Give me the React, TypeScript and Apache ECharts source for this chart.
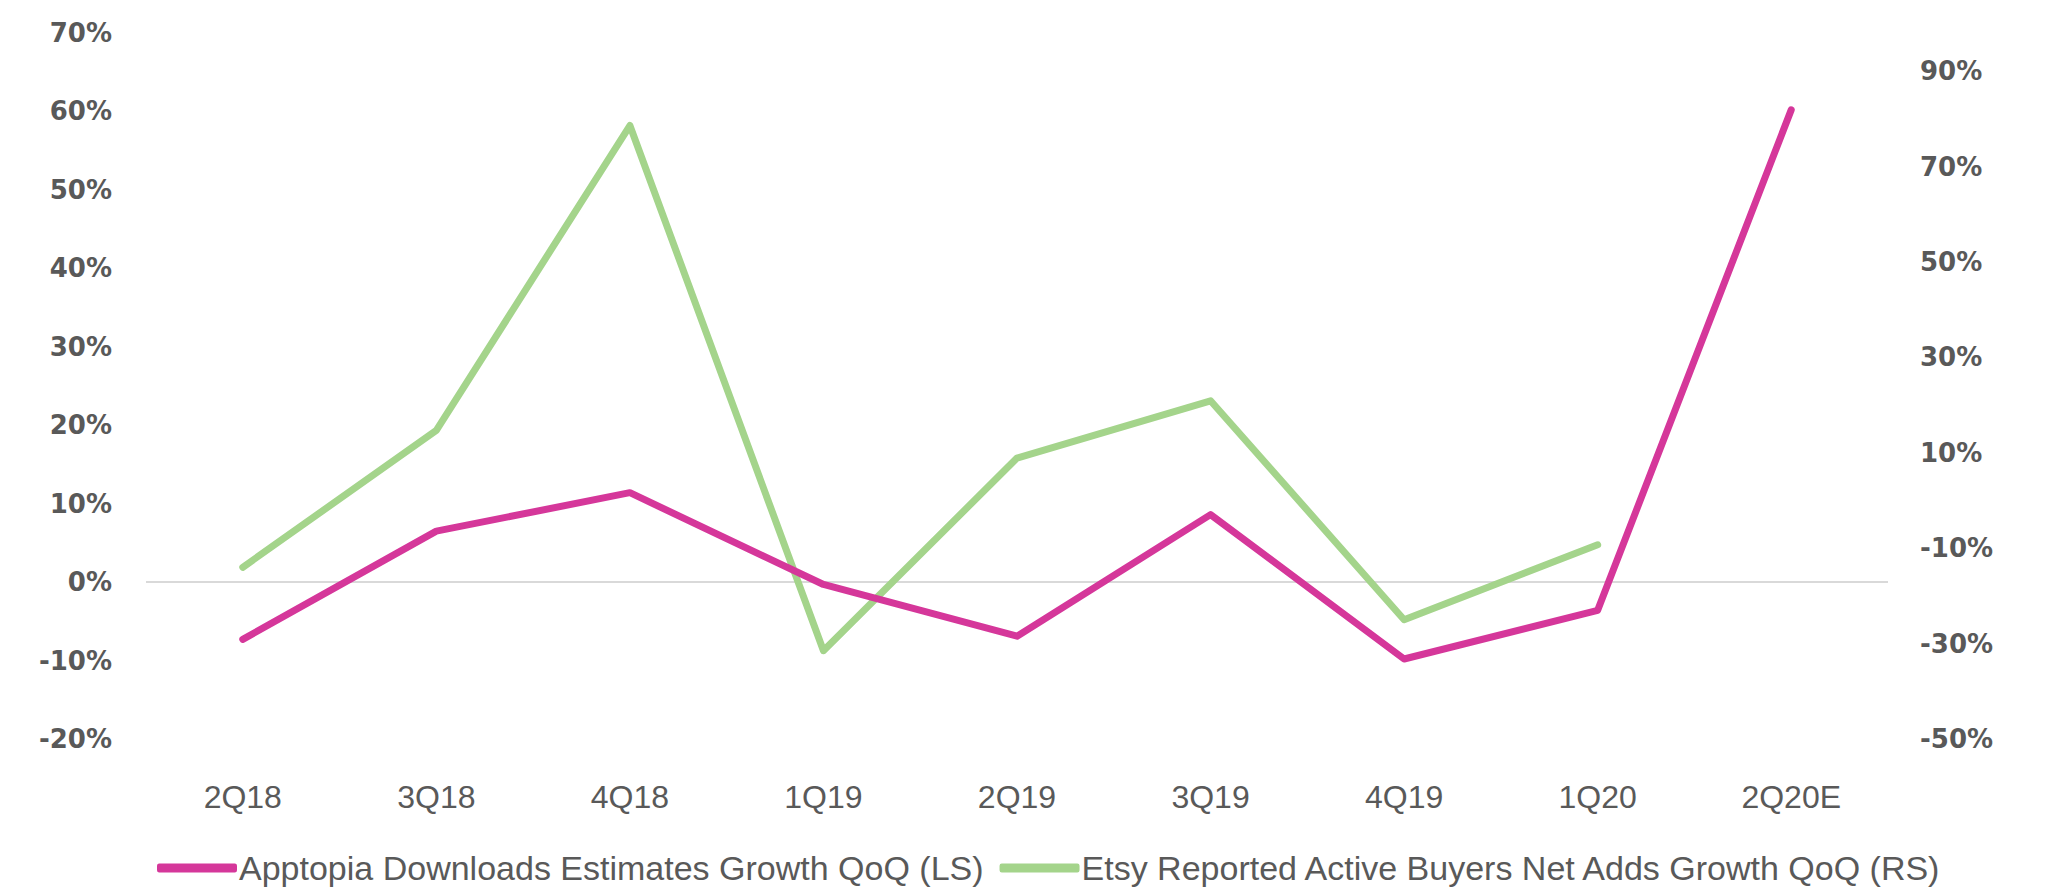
import React, { useEffect, useRef } from "react";
import * as echarts from "echarts";

const categories = ["2Q18", "3Q18", "4Q18", "1Q19", "2Q19", "3Q19", "4Q19", "1Q20", "2Q20E"];
const apptopiaGrowth = [-7.3, 6.5, 11.4, -0.3, -6.9, 8.6, -9.8, -3.6, 60.2];
const etsyGrowth: (number | null)[] = [-14.0, 14.7, 78.6, -31.5, 8.9, 20.9, -25.0, -9.3, null];
const leftTicks = [-20, -10, 0, 10, 20, 30, 40, 50, 60, 70];
const rightTicks = [-50, -30, -10, 10, 30, 50, 70, 90];

const seriesNames = [
  "Apptopia Downloads Estimates Growth QoQ (LS)",
  "Etsy Reported Active Buyers Net Adds Growth QoQ (RS)",
];

const PINK = "#D5379A";
const GREEN = "#A4D48B";
const TEXT = "#595959";

export default function App() {
  const ref = useRef<HTMLDivElement>(null);

  useEffect(() => {
    if (!ref.current) return;
    const chart = echarts.init(ref.current, undefined, { renderer: "svg" });
    chart.setOption({
      animation: false,
      backgroundColor: "#ffffff",
      grid: { left: 146, right: 170, top: 33, bottom: 149, containLabel: false },
      legend: {
        left: 152,
        top: 846,
        itemWidth: 80,
        itemHeight: 9,
        itemGap: 16,
        icon: "roundRect",
        textStyle: {
          color: TEXT,
          fontSize: 34,
          fontFamily: "Liberation Sans, Arial, sans-serif",
          padding: [0, 0, 0, -3],
        },
        data: [
          { name: seriesNames[0], itemStyle: { color: PINK } },
          { name: seriesNames[1], itemStyle: { color: GREEN } },
        ],
      },
      xAxis: {
        type: "category",
        data: categories,
        boundaryGap: true,
        axisLine: { show: false },
        axisTick: { show: false },
        splitLine: { show: false },
        axisLabel: {
          color: TEXT,
          fontSize: 32,
          margin: 42,
          fontFamily: "Liberation Sans, Arial, sans-serif",
        },
      },
      yAxis: [
        {
          type: "value",
          min: -20,
          max: 70,
          interval: 10,
          position: "left",
          axisLine: { show: false },
          axisTick: { show: false },
          splitLine: { show: false },
          axisLabel: {
            color: TEXT,
            fontSize: 26,
            fontWeight: "bold",
            fontFamily: "DejaVu Sans, sans-serif",
            margin: 34,
            formatter: (v: number) => (leftTicks.includes(Math.round(v)) ? `${Math.round(v)}%` : ""),
          },
        },
        {
          type: "value",
          min: -50,
          max: 98,
          interval: 10,
          position: "right",
          axisLine: { show: false },
          axisTick: { show: false },
          splitLine: { show: false },
          axisLabel: {
            color: TEXT,
            fontSize: 26,
            fontWeight: "bold",
            fontFamily: "DejaVu Sans, sans-serif",
            margin: 32,
            showMaxLabel: false,
            formatter: (v: number) => (rightTicks.includes(Math.round(v)) ? `${Math.round(v)}%` : ""),
          },
        },
      ],
      series: [
        {
          name: seriesNames[0],
          type: "line",
          yAxisIndex: 0,
          data: apptopiaGrowth,
          showSymbol: false,
          symbol: "none",
          lineStyle: { color: PINK, width: 7, cap: "round", join: "round" },
          itemStyle: { color: PINK },
          z: 3,
          markLine: {
            silent: true,
            symbol: "none",
            label: { show: false },
            lineStyle: { color: "#D9D9D9", width: 2, type: "solid" },
            data: [{ yAxis: 0 }],
            z: 1,
          },
        },
        {
          name: seriesNames[1],
          type: "line",
          yAxisIndex: 1,
          data: etsyGrowth,
          showSymbol: false,
          symbol: "none",
          connectNulls: false,
          lineStyle: { color: GREEN, width: 7, cap: "round", join: "round" },
          itemStyle: { color: GREEN },
          z: 2,
        },
      ],
    });
    return () => chart.dispose();
  }, []);

  return (
    <div
      ref={ref}
      style={{ position: "fixed", left: 0, top: 0, width: 2058, height: 888, background: "#fff" }}
    />
  );
}
